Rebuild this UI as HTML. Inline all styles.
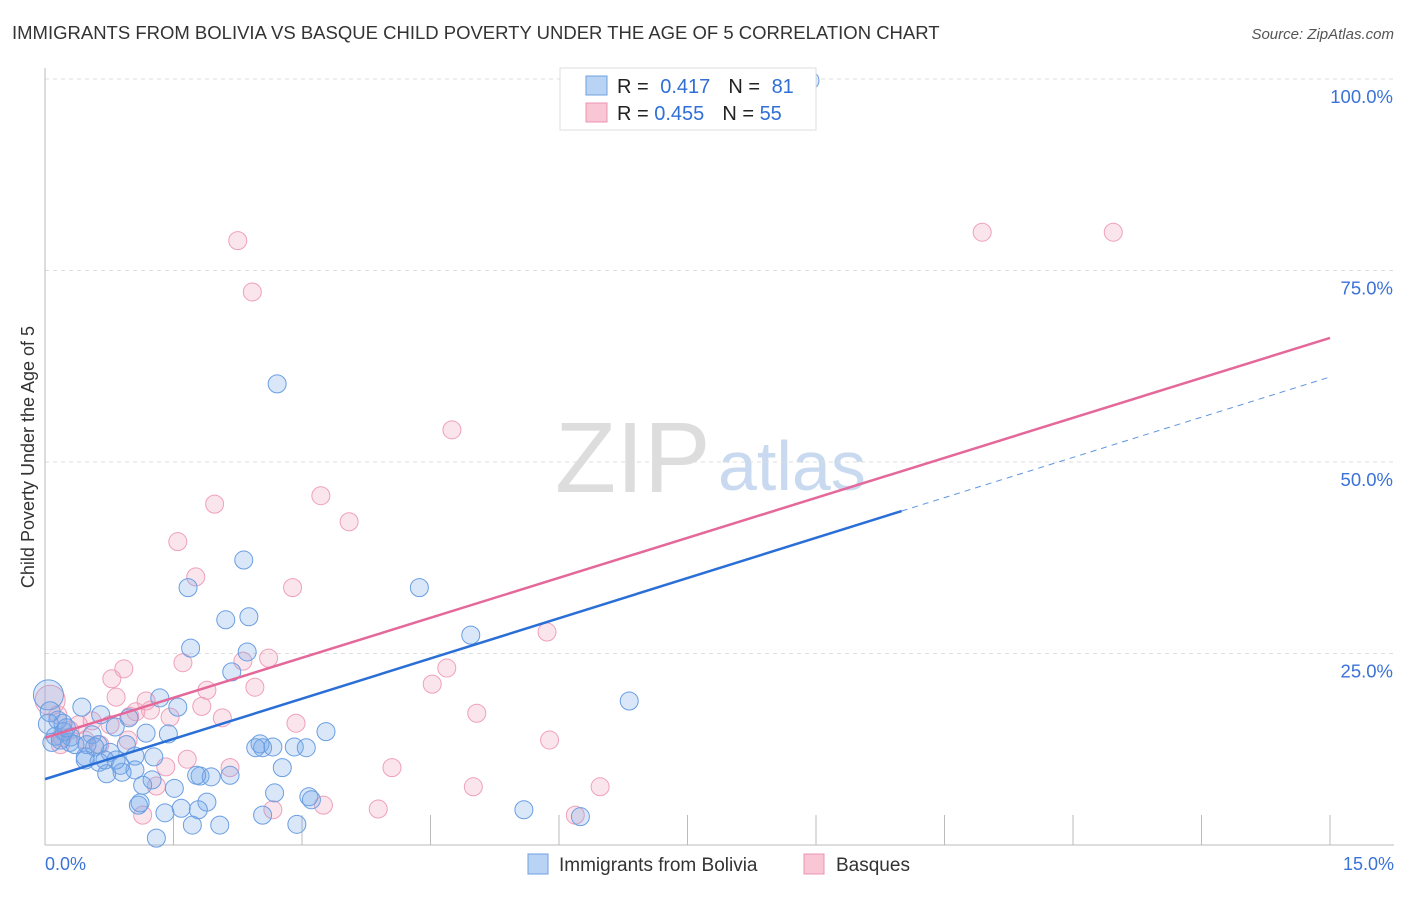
<!DOCTYPE html>
<html><head><meta charset="utf-8"><style>
body{margin:0;background:#fff;font-family:"Liberation Sans",sans-serif}
svg text{font-family:"Liberation Sans",sans-serif}
</style></head><body>
<svg id="c" width="1406" height="892">
<text x="12" y="39" font-size="18.5" fill="#333">IMMIGRANTS FROM BOLIVIA VS BASQUE CHILD POVERTY UNDER THE AGE OF 5 CORRELATION CHART</text>
<text x="1394" y="39" font-size="15" fill="#555" text-anchor="end" font-style="italic">Source: ZipAtlas.com</text>
<text x="34" y="457" font-size="18" fill="#333" text-anchor="middle" transform="rotate(-90 34 457)">Child Poverty Under the Age of 5</text>
<text x="555" y="492" font-size="100" fill="#ddd" font-family="Liberation Serif">ZIP</text>
<text x="718" y="490" font-size="70" fill="#c9daf0">atlas</text>
<g id="grid"></g><g id="pts"></g><g id="lines"></g>
<g>
<rect x="560" y="68" width="256" height="62" fill="#fff" stroke="#ddd"/>
<rect x="586" y="76" width="21" height="19" fill="#b8d3f4" stroke="#6fa0e0"/>
<rect x="586" y="103" width="21" height="19" fill="#f8c6d5" stroke="#ec94b0"/>
<text x="617" y="93" font-size="20" fill="#222">R = <tspan fill="#2f6fd6" dx="6">0.417</tspan><tspan dx="18" fill="#222">N = </tspan><tspan dx="6" fill="#2f6fd6">81</tspan></text>
<text x="617" y="120" font-size="20" fill="#222">R = <tspan fill="#2f6fd6">0.455</tspan><tspan dx="18" fill="#222">N = </tspan><tspan fill="#2f6fd6">55</tspan></text>
</g>
<g>
<rect x="528" y="854" width="20" height="20" fill="#b8d3f4" stroke="#6fa0e0"/>
<text x="559" y="871" font-size="19" fill="#333">Immigrants from Bolivia</text>
<rect x="804" y="854" width="20" height="20" fill="#f8c6d5" stroke="#ec94b0"/>
<text x="836" y="871" font-size="19" fill="#333">Basques</text>
</g>
</svg>
<script>
const yTicks=[100,75,50,25];
const xTickLabels=["0.0%","15.0%"];
const blueX=[2.71,8.93,2.32,1.67,4.37,2.11,2.38,4.97,1.70,2.36,2.18,6.82,1.34,1.55,0.43,0.65,0.98,0.15,0.21,0.82,1.18,1.44,3.28,0.55,0.30,0.12,0.08,0.29,0.49,0.62,2.51,2.54,2.91,3.05,2.66,2.46,0.95,0.76,0.47,1.05,0.83,1.27,0.63,2.77,1.05,0.90,0.72,1.81,1.94,2.16,1.77,1.25,1.14,1.51,2.68,3.08,3.11,1.89,1.09,1.11,1.59,1.79,1.40,2.54,5.59,6.25,1.72,2.04,2.94,1.30,0.04,0.06,0.04,0.22,0.35,0.58,0.70,0.47,0.88,0.18,0.25];
const blueY=[60.2,99.8,37.2,33.6,33.6,29.4,29.8,27.4,25.7,25.2,22.6,18.8,19.2,18.0,18.0,17.0,16.6,16.3,15.9,15.4,14.6,14.5,14.8,14.4,14.1,14.2,13.4,13.4,13.1,13.1,13.2,12.7,12.8,12.7,12.8,12.7,13.1,12.1,11.5,11.6,11.1,11.5,10.8,10.1,9.8,9.5,9.3,9.0,8.9,9.1,9.1,8.5,7.8,7.4,6.8,6.3,5.9,5.6,5.2,5.5,4.8,4.6,4.2,3.9,4.6,3.7,2.6,2.6,2.7,0.9,19.6,17.4,15.8,14.8,13.1,12.8,11.1,11.1,10.4,13.7,15.3];
const pinkX=[2.25,2.42,10.94,12.47,4.75,3.22,3.55,1.98,1.55,1.76,2.89,5.86,2.61,2.31,0.92,1.61,0.78,4.69,4.52,1.89,2.45,0.83,1.18,1.23,1.06,1.83,5.04,0.99,0.55,1.46,2.07,2.93,5.89,1.66,4.05,2.16,1.41,5.00,6.48,3.25,3.89,2.66,1.14,6.19,1.30,0.06,0.15,0.29,0.18,0.47,0.64,0.20,0.76,0.97,0.39];
const pinkY=[78.9,72.2,80.0,80.0,54.2,45.6,42.2,44.5,39.6,35.0,33.6,27.8,24.4,24.0,23.0,23.8,21.7,23.1,21.0,20.2,20.6,19.3,18.8,17.6,17.4,18.1,17.2,16.8,16.2,16.7,16.6,15.9,13.7,11.2,10.1,10.1,10.2,7.6,7.6,5.2,4.7,4.6,3.9,3.9,7.7,18.9,17.0,15.0,13.1,13.7,13.1,14.0,15.7,13.7,15.7];
const blueFit=[8.6,61.1];const blueSolidEnd=10.0;
const pinkFit=[14.0,66.2];
const NS="http://www.w3.org/2000/svg";
const X0=45,X1=1330,Y0=845,Y100=79;
const sx=v=>X0+(v/15)*(X1-X0);
const sy=v=>Y0-(v/100)*(Y0-Y100);
function mk(t,a,p){const e=document.createElementNS(NS,t);for(const k in a)e.setAttribute(k,a[k]);p.appendChild(e);return e;}
const grid=document.getElementById('grid');
yTicks.forEach(t=>{
 const l=mk('line',{x1:X0,x2:1394,y1:sy(t),y2:sy(t),stroke:'#ddd','stroke-dasharray':'4,4'},grid);
 
 
 const tx=mk('text',{x:1393,y:sy(t)+24,'font-size':18.5,fill:'#3a72d8','text-anchor':'end'},grid);tx.textContent=t.toFixed(1)+'%';
 
 
});
mk('line',{x1:X0,x2:X0,y1:68,y2:Y0,stroke:'#bbb'},grid);
mk('line',{x1:X0,x2:1394,y1:Y0,y2:Y0,stroke:'#bbb'},grid);
for(let i=0;i<=10;i++){mk('line',{x1:sx(i*1.5),x2:sx(i*1.5),y1:815,y2:Y0,stroke:'#bbb'},grid);}
const xl=mk('text',{x:45,y:870,'font-size':18,fill:'#3a72d8'},grid);xl.textContent=xTickLabels[0];


const xr=mk('text',{x:1394,y:870,'font-size':18,fill:'#3a72d8','text-anchor':'end'},grid);xr.textContent=xTickLabels[1];


const pts=document.getElementById('pts');
function series(xs,ys,fill,stroke,name){
 xs.forEach((x,i)=>{
  const r=(x<0.1&&i>=xs.length-11)?(ys[i]>18.5?15:10):9;
  const c=mk('circle',{cx:sx(x),cy:sy(ys[i]),r:r,fill:fill,stroke:stroke,'stroke-width':1},pts);
  
  
 });
}
series(pinkX,pinkY,'rgba(242,160,188,0.28)','#efa0ba','basques');
series(blueX,blueY,'rgba(120,170,235,0.28)','#6a9ee2','bolivia');
const ln=document.getElementById('lines');
const pb=blueFit[0]+(blueFit[1]-blueFit[0])*blueSolidEnd/15;
const b1=mk('line',{x1:sx(0),y1:sy(blueFit[0]),x2:sx(blueSolidEnd),y2:sy(pb),stroke:'#2a6fd6','stroke-width':2.5},ln);


const b2=mk('line',{x1:sx(blueSolidEnd),y1:sy(pb),x2:sx(15),y2:sy(blueFit[1]),stroke:'#5f95e0','stroke-width':1,'stroke-dasharray':'6,5'},ln);


const p1=mk('line',{x1:sx(0),y1:sy(pinkFit[0]),x2:sx(15),y2:sy(pinkFit[1]),stroke:'#e4689a','stroke-width':2.5},ln);


</script>
</body></html>
